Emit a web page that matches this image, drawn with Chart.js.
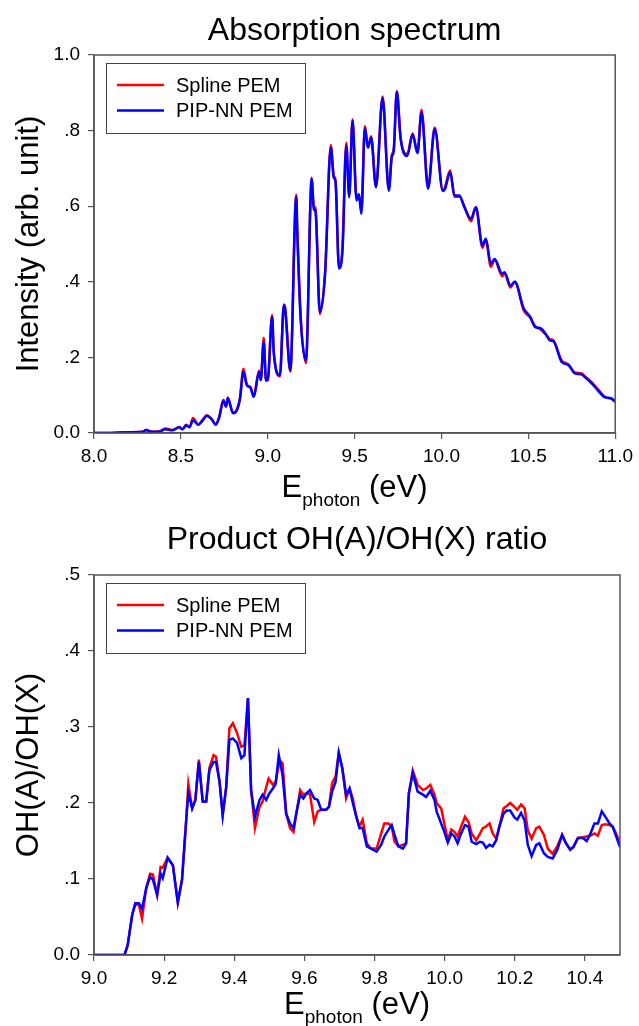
<!DOCTYPE html>
<html>
<head>
<meta charset="utf-8">
<script src="https://cdn.jsdelivr.net/npm/chart.js@4.4.1/dist/chart.umd.min.js"></script>
<style>
  body { margin: 0; background: #fff; }
  .panel { position: absolute; left: 0; width: 639px; height: 513px; }
</style>
</head>
<body>
<div class="panel" style="top:0"><canvas id="absChart" width="639" height="513"></canvas></div>
<div class="panel" style="top:513px"><canvas id="ratioChart" width="639" height="513"></canvas></div>
<script>
// absorption spectrum (eV, arb. unit)
const absEnergy = [8.00, 8.10, 8.20, 8.28, 8.30, 8.33, 8.38, 8.41, 8.45, 8.49, 8.51, 8.53, 8.55, 8.57, 8.60, 8.62, 8.65, 8.68, 8.70, 8.72,
  8.745, 8.76, 8.77, 8.80, 8.82, 8.84, 8.86, 8.88, 8.90, 8.92, 8.95, 8.96, 8.977, 8.99, 9.00, 9.025, 9.035, 9.07, 9.093, 9.10,
  9.13, 9.164, 9.17, 9.19, 9.22, 9.253, 9.265, 9.275, 9.30, 9.33, 9.363, 9.38, 9.39, 9.41, 9.43, 9.452, 9.469, 9.488, 9.511, 9.525,
  9.539, 9.559, 9.577, 9.595, 9.623, 9.661, 9.697, 9.714, 9.725, 9.743, 9.765, 9.803, 9.834, 9.862, 9.885, 9.923, 9.961, 10.008, 10.02, 10.05,
  10.075, 10.103, 10.132, 10.17, 10.198, 10.236, 10.255, 10.284, 10.306, 10.35, 10.363, 10.397, 10.422, 10.473, 10.511, 10.54, 10.568, 10.597, 10.625, 10.644,
  10.692, 10.73, 10.768, 10.806, 10.825, 10.863, 10.90, 10.939, 10.977, 11.00];
const absSpline = [0, 0, 0.002, 0.003, 0.008, 0.003, 0.005, 0.012, 0.008, 0.016, 0.010, 0.022, 0.016, 0.040, 0.022, 0.032, 0.047, 0.035, 0.022, 0.042,
  0.088, 0.070, 0.094, 0.054, 0.060, 0.092, 0.170, 0.128, 0.122, 0.098, 0.165, 0.140, 0.252, 0.138, 0.140, 0.312, 0.215, 0.150, 0.340, 0.330,
  0.162, 0.630, 0.540, 0.305, 0.185, 0.675, 0.600, 0.595, 0.315, 0.425, 0.762, 0.680, 0.670, 0.440, 0.490, 0.768, 0.630, 0.830, 0.620, 0.632,
  0.585, 0.812, 0.755, 0.785, 0.652, 0.890, 0.645, 0.735, 0.750, 0.905, 0.780, 0.738, 0.792, 0.742, 0.855, 0.650, 0.808, 0.640, 0.650, 0.695,
  0.625, 0.625, 0.600, 0.560, 0.598, 0.490, 0.512, 0.440, 0.458, 0.415, 0.422, 0.385, 0.400, 0.325, 0.305, 0.282, 0.275, 0.262, 0.248, 0.245,
  0.192, 0.182, 0.160, 0.158, 0.150, 0.135, 0.116, 0.096, 0.090, 0.083];
const absPipNN = [0, 0, 0.002, 0.003, 0.008, 0.003, 0.004, 0.010, 0.007, 0.015, 0.010, 0.020, 0.015, 0.034, 0.022, 0.030, 0.045, 0.035, 0.022, 0.040,
  0.085, 0.070, 0.092, 0.052, 0.058, 0.090, 0.162, 0.126, 0.120, 0.096, 0.162, 0.140, 0.241, 0.140, 0.140, 0.307, 0.210, 0.153, 0.338, 0.330,
  0.166, 0.624, 0.530, 0.298, 0.193, 0.672, 0.593, 0.585, 0.320, 0.420, 0.755, 0.676, 0.665, 0.435, 0.480, 0.760, 0.624, 0.826, 0.615, 0.630,
  0.580, 0.807, 0.755, 0.782, 0.650, 0.887, 0.641, 0.730, 0.745, 0.903, 0.778, 0.733, 0.790, 0.740, 0.848, 0.646, 0.805, 0.641, 0.645, 0.690,
  0.628, 0.628, 0.597, 0.567, 0.597, 0.496, 0.514, 0.448, 0.460, 0.422, 0.425, 0.390, 0.400, 0.330, 0.307, 0.280, 0.278, 0.264, 0.245, 0.243,
  0.188, 0.180, 0.158, 0.155, 0.148, 0.132, 0.113, 0.095, 0.092, 0.083];

// OH(A)/OH(X) product ratio
const ratioEnergy = [9.000, 9.087, 9.096, 9.109, 9.118, 9.128, 9.137, 9.149, 9.160, 9.168, 9.180, 9.190, 9.196, 9.210, 9.225, 9.239, 9.251, 9.263, 9.269, 9.280,
  9.289, 9.299, 9.310, 9.320, 9.329, 9.341, 9.348, 9.358, 9.367, 9.377, 9.386, 9.396, 9.408, 9.420, 9.429, 9.439, 9.448, 9.459, 9.472, 9.481,
  9.491, 9.498, 9.510, 9.518, 9.527, 9.534, 9.538, 9.548, 9.559, 9.569, 9.578, 9.588, 9.597, 9.607, 9.616, 9.628, 9.638, 9.648, 9.662, 9.670,
  9.679, 9.689, 9.698, 9.708, 9.719, 9.729, 9.738, 9.748, 9.757, 9.766, 9.778, 9.790, 9.806, 9.819, 9.828, 9.840, 9.849, 9.857, 9.868, 9.881,
  9.890, 9.898, 9.909, 9.923, 9.938, 9.947, 9.959, 9.971, 9.977, 9.990, 9.999, 10.009, 10.019, 10.028, 10.037, 10.047, 10.058, 10.068, 10.077, 10.090,
  10.101, 10.109, 10.118, 10.128, 10.137, 10.147, 10.156, 10.168, 10.177, 10.187, 10.199, 10.207, 10.218, 10.228, 10.237, 10.248, 10.261, 10.270, 10.283, 10.294,
  10.308, 10.321, 10.335, 10.346, 10.358, 10.367, 10.380, 10.394, 10.405, 10.416, 10.427, 10.437, 10.448, 10.458, 10.470, 10.479, 10.489, 10.500];
const ratioSpline = [0, 0, 0.013, 0.053, 0.068, 0.066, 0.048, 0.088, 0.107, 0.106, 0.079, 0.116, 0.115, 0.128, 0.118, 0.069, 0.099, 0.178, 0.225, 0.193,
  0.204, 0.257, 0.202, 0.202, 0.246, 0.263, 0.261, 0.228, 0.184, 0.221, 0.298, 0.305, 0.292, 0.274, 0.276, 0.338, 0.217, 0.167, 0.195, 0.202,
  0.221, 0.232, 0.224, 0.228, 0.250, 0.254, 0.252, 0.186, 0.167, 0.162, 0.189, 0.217, 0.211, 0.213, 0.211, 0.175, 0.189, 0.191, 0.191, 0.195,
  0.226, 0.235, 0.266, 0.246, 0.206, 0.219, 0.206, 0.182, 0.169, 0.178, 0.147, 0.140, 0.140, 0.160, 0.173, 0.173, 0.169, 0.149, 0.143, 0.145,
  0.147, 0.213, 0.243, 0.224, 0.217, 0.219, 0.224, 0.211, 0.200, 0.193, 0.173, 0.151, 0.165, 0.162, 0.156, 0.169, 0.182, 0.175, 0.160, 0.151,
  0.160, 0.167, 0.169, 0.173, 0.160, 0.153, 0.169, 0.193, 0.196, 0.200, 0.195, 0.191, 0.198, 0.193, 0.164, 0.153, 0.167, 0.169, 0.158, 0.140,
  0.133, 0.143, 0.158, 0.147, 0.138, 0.142, 0.154, 0.155, 0.156, 0.157, 0.160, 0.157, 0.171, 0.172, 0.171, 0.169, 0.160, 0.147];
const ratioPipNN = [0, 0, 0.013, 0.053, 0.068, 0.068, 0.061, 0.088, 0.103, 0.099, 0.079, 0.107, 0.101, 0.128, 0.118, 0.069, 0.099, 0.178, 0.213, 0.193,
  0.204, 0.254, 0.202, 0.202, 0.243, 0.254, 0.254, 0.228, 0.184, 0.221, 0.283, 0.285, 0.279, 0.259, 0.263, 0.338, 0.217, 0.182, 0.204, 0.211,
  0.204, 0.211, 0.219, 0.225, 0.263, 0.246, 0.235, 0.186, 0.173, 0.167, 0.189, 0.211, 0.206, 0.213, 0.217, 0.206, 0.204, 0.191, 0.191, 0.195,
  0.215, 0.228, 0.266, 0.246, 0.211, 0.219, 0.200, 0.182, 0.167, 0.167, 0.143, 0.140, 0.136, 0.145, 0.156, 0.165, 0.171, 0.158, 0.143, 0.140,
  0.147, 0.213, 0.239, 0.215, 0.211, 0.208, 0.216, 0.204, 0.189, 0.173, 0.162, 0.148, 0.160, 0.156, 0.147, 0.160, 0.171, 0.169, 0.149, 0.146,
  0.149, 0.148, 0.141, 0.145, 0.143, 0.151, 0.169, 0.186, 0.190, 0.190, 0.181, 0.178, 0.187, 0.177, 0.145, 0.130, 0.145, 0.147, 0.134, 0.129,
  0.127, 0.138, 0.158, 0.147, 0.139, 0.142, 0.154, 0.154, 0.150, 0.160, 0.173, 0.173, 0.189, 0.182, 0.173, 0.169, 0.156, 0.142];

const seriesNames = ['Spline PEM', 'PIP-NN PEM'];
const seriesColors = ['#ff0000', '#0000ff'];

const FONT = '"Liberation Sans", Arial, sans-serif';
const AXIS = '#555';

function points(xs, ys) {
  return xs.map((x, i) => ({ x: x, y: ys[i] }));
}

// SigmaPlot style: leading zero dropped except at 0.0 and 1.0
function sigmaLabel(v) {
  const s = Number(v).toFixed(1);
  return (v === 0 || v >= 1) ? s : s.replace(/^0/, '');
}

// frame, titles, subscripted x title and boxed legend
const panelDecor = {
  id: 'panelDecor',
  afterDraw(chart, args, opts) {
    const ctx = chart.ctx;
    const a = chart.chartArea;
    const cx = (a.left + a.right) / 2;
    ctx.save();
    ctx.strokeStyle = AXIS;
    ctx.lineWidth = 1.5;
    ctx.strokeRect(a.left, a.top, a.right - a.left, a.bottom - a.top);

    ctx.fillStyle = '#000';
    ctx.textAlign = 'center';
    ctx.textBaseline = 'alphabetic';
    ctx.font = '32px ' + FONT;
    ctx.fillText(opts.title, cx, opts.titleY);

    ctx.save();
    ctx.translate(38, (a.top + a.bottom) / 2);
    ctx.rotate(-Math.PI / 2);
    ctx.font = '31px ' + FONT;
    ctx.fillText(opts.yTitle, 0, 0);
    ctx.restore();

    const big = '31px ' + FONT, small = '19px ' + FONT;
    ctx.font = big;
    const wE = ctx.measureText('E').width;
    const wTail = ctx.measureText(' (eV)').width;
    ctx.font = small;
    const wSub = ctx.measureText('photon').width;
    let x = cx - (wE + wSub + wTail) / 2;
    ctx.textAlign = 'left';
    ctx.font = big;
    ctx.fillText('E', x, opts.xTitleY);
    x += wE;
    ctx.font = small;
    ctx.fillText('photon', x, opts.xTitleY + 9);
    x += wSub;
    ctx.font = big;
    ctx.fillText(' (eV)', x, opts.xTitleY);

    // legend box
    const lx = a.left + 12, ly = a.top + 8;
    ctx.strokeStyle = '#444';
    ctx.lineWidth = 1;
    ctx.strokeRect(lx + 0.5, ly + 0.5, 199, 70);
    ctx.font = '20px ' + FONT;
    ctx.textBaseline = 'middle';
    chart.data.datasets.forEach((ds, i) => {
      const ry = ly + 22 + i * 25.5;
      ctx.strokeStyle = ds.borderColor;
      ctx.lineWidth = 2.5;
      ctx.beginPath();
      ctx.moveTo(lx + 11, ry);
      ctx.lineTo(lx + 58, ry);
      ctx.stroke();
      ctx.fillStyle = '#000';
      ctx.fillText(ds.label, lx + 70, ry + 1);
    });
    ctx.restore();
  }
};

function makeChart(id, cfg) {
  const datasets = [cfg.spline, cfg.pip].map((ys, i) => ({
    label: seriesNames[i],
    data: points(cfg.energy, ys),
    borderColor: seriesColors[i],
    borderWidth: 2.5,
    pointRadius: 0,
    fill: false,
    order: i === 0 ? 1 : 0,
    cubicInterpolationMode: cfg.smooth ? 'monotone' : 'default',
    tension: 0
  }));

  const tickFont = { family: FONT, size: 19 };
  return new Chart(document.getElementById(id), {
    type: 'line',
    data: { datasets: datasets },
    options: {
      responsive: false,
      animation: false,
      layout: { padding: { top: cfg.top, right: 639 - cfg.right, left: 0, bottom: 0 } },
      scales: {
        x: {
          type: 'linear',
          min: cfg.xMin,
          max: cfg.xMax,
          afterFit: s => { s.height = cfg.xHeight; },
          ticks: {
            stepSize: cfg.xStep,
            includeBounds: false,
            autoSkip: false,
            maxRotation: 0,
            padding: 6,
            color: '#000',
            font: tickFont,
            callback: v => Number(v).toFixed(1)
          },
          grid: { drawOnChartArea: false, tickLength: 6, color: AXIS, lineWidth: 1.2 },
          border: { color: AXIS, width: 1.5 }
        },
        y: {
          min: 0,
          max: cfg.yMax,
          afterFit: s => { s.width = cfg.left; },
          ticks: {
            stepSize: cfg.yStep,
            padding: 8,
            color: '#000',
            font: tickFont,
            callback: v => sigmaLabel(v)
          },
          grid: { drawOnChartArea: false, tickLength: 6, color: AXIS, lineWidth: 1.2 },
          border: { color: AXIS, width: 1.5 }
        }
      },
      plugins: {
        legend: { display: false },
        tooltip: { enabled: false },
        panelDecor: cfg.decor
      }
    },
    plugins: [panelDecor]
  });
}

makeChart('absChart', {
  energy: absEnergy, spline: absSpline, pip: absPipNN, smooth: true,
  xMin: 8, xMax: 11, xStep: 0.5, yMax: 1, yStep: 0.2,
  top: 55, left: 94, right: 621, xHeight: 80,
  decor: { title: 'Absorption spectrum', yTitle: 'Intensity (arb. unit)', titleY: 40, xTitleY: 497 }
});

makeChart('ratioChart', {
  energy: ratioEnergy, spline: ratioSpline, pip: ratioPipNN, smooth: false,
  xMin: 9, xMax: 10.5, xStep: 0.2, yMax: 0.5, yStep: 0.1,
  top: 62, left: 94, right: 620, xHeight: 71,
  decor: { title: 'Product OH(A)/OH(X) ratio', yTitle: 'OH(A)/OH(X)', titleY: 36, xTitleY: 501 }
});
</script>
</body>
</html>
